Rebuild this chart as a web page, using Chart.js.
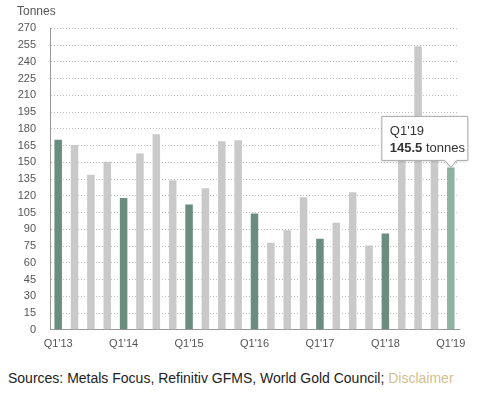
<!DOCTYPE html>
<html>
<head>
<meta charset="utf-8">
<script src="https://cdn.jsdelivr.net/npm/chart.js@4"></script>
<style>
  body { margin: 0; background: #fff; font-family: "Liberation Sans", Arial, sans-serif; }
  #wrap { position: relative; width: 482px; height: 398px; }
  #chart-box { position: absolute; left: 0; top: 0; width: 482px; height: 351px; }
  #sources { position: absolute; left: 8px; top: 370px; font-size: 14px; color: #222; white-space: nowrap; }
  #sources span { color: #d2bf90; }
</style>
</head>
<body>
<div id="wrap">
  <div id="chart-box"><canvas id="chart"></canvas></div>
  <div id="sources">Sources: Metals Focus, Refinitiv GFMS, World Gold Council; <span>Disclaimer</span></div>
</div>
<script>
const quarters = ["Q1'13", "Q2'13", "Q3'13", "Q4'13", "Q1'14", "Q2'14", "Q3'14", "Q4'14",
    "Q1'15", "Q2'15", "Q3'15", "Q4'15", "Q1'16", "Q2'16", "Q3'16", "Q4'16",
    "Q1'17", "Q2'17", "Q3'17", "Q4'17", "Q1'18", "Q2'18", "Q3'18", "Q4'18", "Q1'19"];

const tonnes = [170.3, 165.5, 138.9, 150.6, 118.0, 157.9, 175.1, 134.0,
    112.3, 126.8, 168.8, 169.7, 104.2, 77.9, 89.1, 118.7,
    81.5, 96.0, 123.2, 75.5, 86.3, 160.0, 253.9, 160.0, 145.5];

const yTicks = [0, 15, 30, 45, 60, 75, 90, 105, 120, 135, 150, 165, 180, 195, 210, 225, 240, 255, 270];

const tipIndex = quarters.length - 1;
const tipUnit = 'tonnes';

const colors = quarters.map((q, i) => {
    if (i === tipIndex) return '#8db1a2';
    return q.startsWith('Q1') ? '#6b8d7f' : '#c9c9c9';
});

// hover style tooltip drawn like the original
const tipPlugin = {
    id: 'tip',
    afterDatasetsDraw(chart) {
        const bar = chart.getDatasetMeta(0).data[tipIndex];
        const ctx = chart.ctx;
        const w = 86, h = 44;
        const right = bar.x + 17;
        const bottom = bar.y - 7;
        const left = right - w, top = bottom - h;

        ctx.save();
        ctx.shadowColor = 'rgba(0,0,0,0.15)';
        ctx.shadowBlur = 3;
        ctx.shadowOffsetY = 1;
        ctx.beginPath();
        ctx.moveTo(left, top);
        ctx.lineTo(right, top);
        ctx.lineTo(right, bottom);
        ctx.lineTo(bar.x + 6, bottom);
        ctx.lineTo(bar.x, bar.y);
        ctx.lineTo(bar.x - 6, bottom);
        ctx.lineTo(left, bottom);
        ctx.closePath();
        ctx.fillStyle = '#fff';
        ctx.fill();
        ctx.shadowColor = 'transparent';
        ctx.strokeStyle = '#a9a9a9';
        ctx.lineWidth = 1;
        ctx.stroke();

        ctx.fillStyle = '#333';
        ctx.textBaseline = 'middle';
        ctx.textAlign = 'left';
        ctx.font = '13px "Liberation Sans", Arial, sans-serif';
        ctx.fillText(quarters[tipIndex], left + 8, top + 15);
        ctx.font = 'bold 13px "Liberation Sans", Arial, sans-serif';
        const val = tonnes[tipIndex].toFixed(1);
        ctx.fillText(val, left + 8, top + 32);
        const vw = ctx.measureText(val).width;
        ctx.font = '13px "Liberation Sans", Arial, sans-serif';
        ctx.fillText(' ' + tipUnit, left + 8 + vw, top + 32);
        ctx.restore();
    }
};

Chart.defaults.font.family = '"Liberation Sans", Arial, sans-serif';
Chart.defaults.color = '#555';

const chart = document.querySelector('#chart').getContext('2d');

new Chart(chart, {
    type: 'bar',
    data: {
        labels: quarters,
        datasets: [
            {
                data: tonnes,
                backgroundColor: colors,
                barPercentage: 0.46,
                categoryPercentage: 1,
            }
        ]
    },
    options: {
        responsive: true,
        maintainAspectRatio: false,
        animation: false,
        events: [],
        layout: {
            padding: { left: 17, right: 23, top: 4, bottom: 0 }
        },
        plugins: {
            legend: { display: false },
            tooltip: { enabled: false },
            title: {
                display: true,
                text: 'Tonnes',
                align: 'start',
                color: '#555',
                font: { size: 12, weight: 'normal' },
                padding: { top: 0, bottom: 10 }
            }
        },
        scales: {
            x: {
                grid: { display: false },
                border: { color: '#999' },
                ticks: {
                    autoSkip: false,
                    maxRotation: 0,
                    font: { size: 11 },
                    padding: 0,
                    callback: (v, i) => quarters[i].startsWith('Q1') ? quarters[i] : ''
                }
            },
            y: {
                min: 0,
                max: 270,
                afterBuildTicks: axis => { axis.ticks = yTicks.map(v => ({ value: v })); },
                afterFit: axis => { axis.width = 33; },
                grid: { color: '#bdbdbd', drawTicks: false },
                border: { color: '#999', dash: [1, 2] },
                ticks: { font: { size: 11 }, padding: 14 }
            }
        }
    },
    plugins: [tipPlugin]
})
</script>
</body>
</html>
